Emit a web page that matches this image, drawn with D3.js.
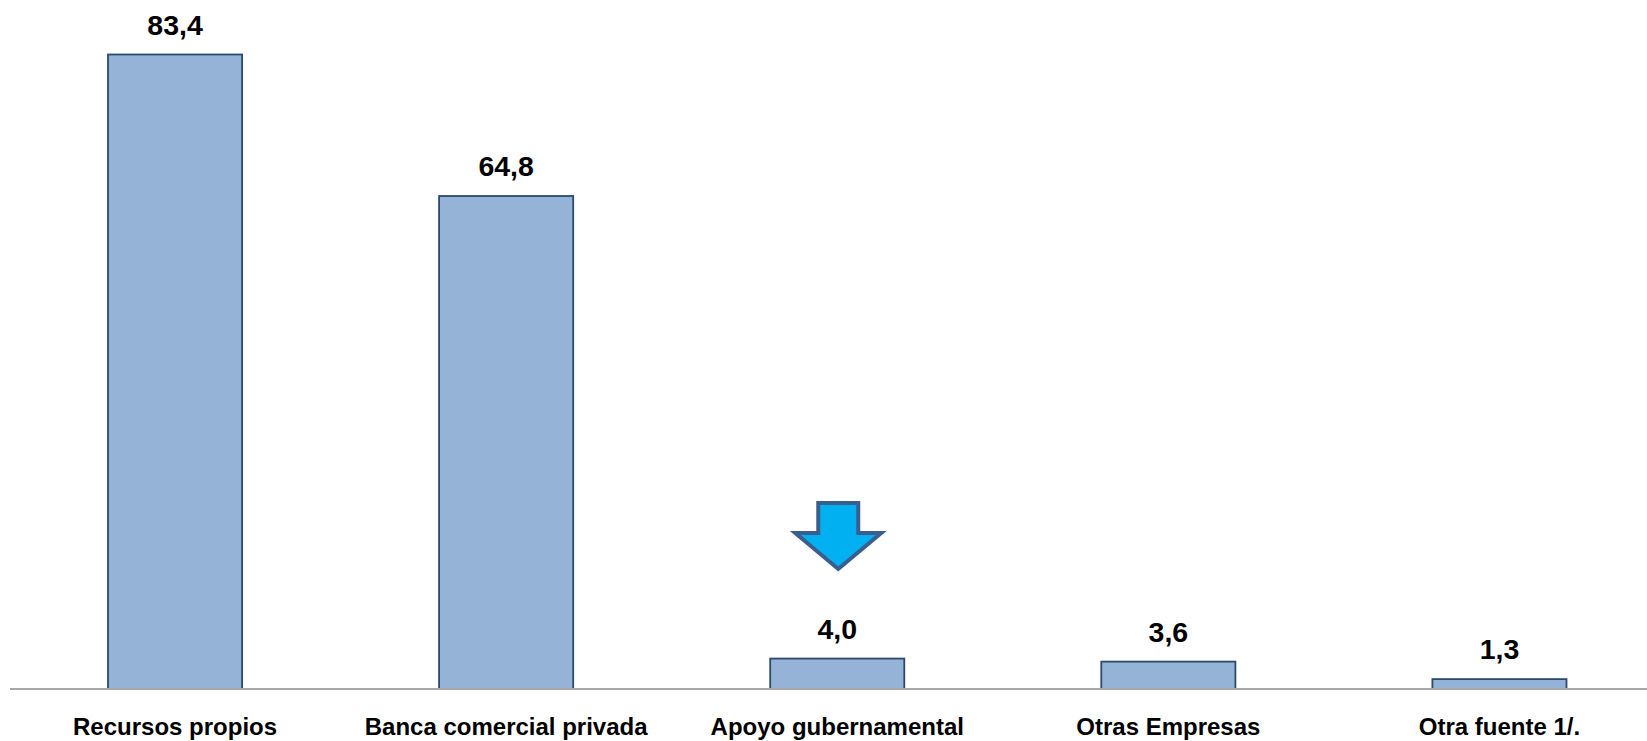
<!DOCTYPE html>
<html>
<head>
<meta charset="utf-8">
<script src="https://cdn.jsdelivr.net/npm/d3@7"></script>
<style>
html,body{margin:0;padding:0;background:#fff;}
svg{display:block;}
</style>
</head>
<body>
<script>
const categories = ["Recursos propios", "Banca comercial privada", "Apoyo gubernamental", "Otras Empresas", "Otra fuente 1/."];
const values = [83.4, 64.8, 4.0, 3.6, 1.3];
const valueLabels = ["83,4", "64,8", "4,0", "3,6", "1,3"];
const highlighted = "Apoyo gubernamental";

const W = 1647, H = 741;
const svg = d3.select("body").append("svg").attr("width", W).attr("height", H);

const x = d3.scaleBand().domain(categories).range([9.5, 1665]).paddingInner(0.595).paddingOuter(0.2975);
const y = d3.scaleLinear().domain([0, 83.4]).range([689, 54.5]);

const font = "'Liberation Sans', Arial, sans-serif";

// bars
svg.selectAll("rect.bar").data(categories).enter().append("rect")
  .attr("class", "bar")
  .attr("x", d => x(d))
  .attr("width", x.bandwidth())
  .attr("y", (d, i) => y(values[i]))
  .attr("height", (d, i) => y(0) - y(values[i]))
  .attr("fill", "#95B3D7")
  .attr("stroke", "#2B4A6F")
  .attr("stroke-width", 1.8);

// axis
const axis = svg.append("g").attr("transform", `translate(0,${y(0)})`)
  .call(d3.axisBottom(x).tickSize(0).tickPadding(29));
axis.select(".domain").remove();
axis.selectAll("text")
  .attr("font-family", font).attr("font-weight", "bold").attr("font-size", 24).attr("fill", "#000");
svg.append("line").attr("x1", 10).attr("x2", W).attr("y1", y(0)).attr("y2", y(0))
  .attr("stroke", "#A6A6A6").attr("stroke-width", 2);

// value labels
svg.selectAll("text.val").data(categories).enter().append("text")
  .attr("class", "val")
  .attr("x", d => x(d) + x.bandwidth() / 2)
  .attr("y", (d, i) => y(values[i]) - 20)
  .attr("text-anchor", "middle")
  .attr("font-family", font).attr("font-weight", "bold").attr("font-size", 28.5)
  .attr("fill", "#000")
  .text((d, i) => valueLabels[i]);

// arrow annotation
const cx = x(highlighted) + x.bandwidth() / 2 + 1;
const tipY = 569;
const arrow = [
  [cx - 20, tipY - 66], [cx + 20, tipY - 66], [cx + 20, tipY - 36],
  [cx + 43, tipY - 36], [cx, tipY], [cx - 43, tipY - 36], [cx - 20, tipY - 36]
];
svg.append("polygon")
  .attr("points", arrow.map(p => p.join(",")).join(" "))
  .attr("fill", "#00B0F0")
  .attr("stroke", "#3A5F8F")
  .attr("stroke-width", 4)
  .attr("stroke-linejoin", "miter");
</script>
</body>
</html>
